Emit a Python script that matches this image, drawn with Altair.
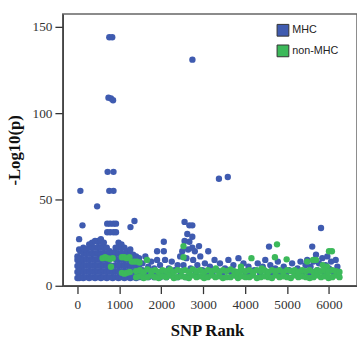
import altair as alt
import pandas as pd

BLUE = "#3f5bb0"
GREEN = "#3cb95a"

# MHC: high peaks
mhc_peaks = [
    (70, 55), (120, 35), (470, 46),
    (760, 144), (830, 144),
    (740, 109), (800, 108.5), (850, 107.5),
    (720, 66), (860, 66),
    (760, 55), (860, 55),
    (710, 36), (780, 36), (860, 36), (920, 36),
    (710, 31), (780, 31), (860, 31), (920, 31),
    (1265, 34), (1360, 37.5),
    (2742, 131), (3375, 62), (3586, 63),
    (2555, 37), (2670, 35), (2740, 35), (5810, 33.5),
]

# MHC: dense cloud, ranks 0-1500
mhc_cloud = [
    (0, 4.5), (0, 8), (0, 11.5), (0, 15), (0, 17),
    (40, 4.5), (40, 8), (40, 11.5), (40, 15), (40, 21), (40, 27),
    (70, 5), (70, 9), (70, 12.5), (70, 16), (70, 20),
    (140, 4.5), (140, 8), (140, 11.5), (140, 15), (140, 18.5), (140, 22),
    (210, 5), (210, 8.5), (210, 12), (210, 15.5), (210, 19), (210, 21),
    (280, 4.5), (280, 8), (280, 11.5), (280, 15), (280, 18.5), (280, 22), (280, 24),
    (350, 5), (350, 8.5), (350, 12), (350, 15.5), (350, 19), (350, 22.5), (350, 25),
    (420, 4.5), (420, 8), (420, 11.5), (420, 15), (420, 18.5), (420, 22), (420, 26),
    (490, 5), (490, 8.5), (490, 12), (490, 15.5), (490, 19), (490, 22.5), (490, 26),
    (560, 4.5), (560, 8), (560, 11.5), (560, 15), (560, 18.5), (560, 22), (560, 25.5), (560, 27),
    (630, 5), (630, 8.5), (630, 12), (630, 15.5), (630, 19), (630, 22.5), (630, 25),
    (700, 4.5), (700, 8), (700, 11.5), (700, 15), (700, 18.5), (700, 22),
    (770, 5), (770, 8.5), (770, 12), (770, 17), (770, 20),
    (840, 4.5), (840, 8), (840, 11.5), (840, 19),
    (910, 5), (910, 8.5), (910, 12), (910, 15.5), (910, 19), (910, 22),
    (980, 4.5), (980, 8), (980, 11.5), (980, 15), (980, 18.5), (980, 22), (980, 25),
    (1050, 5), (1050, 8.5), (1050, 12), (1050, 15.5), (1050, 19), (1050, 22.5), (1050, 24),
    (1120, 4.5), (1120, 8), (1120, 11.5), (1120, 15), (1120, 18.5), (1120, 22),
    (1190, 5), (1190, 8.5), (1190, 12), (1190, 15.5), (1190, 19), (1190, 20),
    (1260, 4.5), (1260, 8), (1260, 11.5), (1260, 15), (1260, 18.5), (1260, 21),
    (1330, 5), (1330, 8.5), (1330, 12), (1330, 15.5), (1330, 18),
    (1400, 4.5), (1400, 8), (1400, 11.5), (1400, 15), (1400, 17),
    (1470, 5), (1470, 8.5), (1470, 12), (1470, 16),
]

# MHC: sparse points, ranks 1500-6250
mhc_sparse = [
    (1550, 5), (1550, 9), (1550, 13), (1620, 7), (1620, 17), (1690, 5), (1690, 11),
    (1760, 8), (1760, 14), (1830, 5), (1830, 10), (1900, 7), (1900, 15), (1900, 20),
    (1970, 5), (1970, 12), (2040, 8), (2060, 20), (2060, 25.5), (2090, 15), (2120, 5),
    (2180, 10), (2250, 6), (2250, 14), (2320, 9), (2390, 5), (2390, 12), (2450, 17),
    (2460, 8), (2500, 20), (2530, 12), (2555, 26), (2590, 5), (2600, 16), (2620, 30),
    (2640, 21), (2670, 25.5), (2700, 10), (2740, 28.4), (2740, 22), (2760, 15),
    (2800, 20), (2820, 7), (2860, 12), (2900, 23), (2930, 17), (2980, 9), (3040, 13),
    (3080, 6), (3120, 20), (3160, 11), (3220, 7), (3270, 15), (3330, 9), (3400, 13),
    (3460, 6), (3520, 10), (3600, 15), (3660, 8), (3720, 12), (3780, 6), (3840, 16),
    (3900, 9), (3960, 13), (4020, 7), (4080, 11), (4140, 6), (4220, 9), (4300, 13),
    (4360, 7), (4420, 11), (4480, 15), (4540, 8), (4570, 22.7), (4600, 12), (4660, 6),
    (4720, 10), (4780, 14), (4850, 7), (4920, 11), (4980, 6), (5050, 9), (5120, 13),
    (5180, 7), (5250, 10), (5320, 14), (5380, 8), (5440, 12), (5480, 15), (5520, 7),
    (5560, 11), (5600, 22.7), (5630, 14), (5690, 18), (5720, 9), (5760, 13),
    (5840, 16), (5880, 8), (5920, 12), (5960, 17), (6000, 10), (6050, 14), (6100, 8),
    (6160, 15), (6200, 11), (6220, 7),
]

# non-MHC: scattered upper points
nonmhc_upper = [
    (600, 16), (660, 16.5), (720, 16), (780, 15.5), (840, 16), (800, 11),
    (1060, 16.5), (1120, 16.5), (1180, 16), (1240, 16.5),
    (1300, 14), (1360, 14), (1420, 14), (1480, 13.5), (1660, 15),
    (1060, 7.5), (1120, 7), (1180, 7.5), (1250, 8),
    (2530, 23), (2530, 16.5), (4150, 16), (4710, 16.5), (4760, 24), (4990, 15.3),
    (5480, 14), (5620, 15), (5690, 15), (5950, 11), (6000, 20), (6070, 20),
    (5850, 12), (3300, 10), (3900, 11), (2200, 9), (4400, 10),
]

# non-MHC: low band (rank, lower value, upper value)
nonmhc_band = [
    (1400, 5, 8.5), (1490, 5.5, 9), (1580, 4.5, 8), (1670, 5, 9.5), (1760, 6, 8.5),
    (1850, 5, 9), (1940, 4.5, 8), (2030, 5.5, 9), (2120, 5, 8.5), (2210, 6, 9.5),
    (2300, 4.5, 8), (2390, 5, 9), (2480, 5.5, 8.5), (2570, 5, 9), (2660, 4.5, 8),
    (2750, 6, 9.5), (2840, 5, 8.5), (2930, 5.5, 9), (3020, 4.5, 8), (3110, 5, 9),
    (3200, 6, 8.5), (3290, 5, 9), (3380, 5.5, 8), (3470, 4.5, 9), (3560, 5, 8.5),
    (3650, 5, 9.5), (3740, 6, 8.5), (3830, 4.5, 8), (3920, 5.5, 9), (4010, 5, 8.5),
    (4100, 5, 9), (4190, 6, 8), (4280, 4.5, 9), (4370, 5, 8.5), (4460, 5.5, 9),
    (4550, 5, 8), (4640, 4.5, 9), (4730, 6, 8.5), (4820, 5, 9), (4910, 5.5, 8),
    (5000, 5, 9), (5090, 4.5, 8.5), (5180, 6, 9), (5270, 5, 8), (5360, 5.5, 9),
    (5450, 5, 8.5), (5540, 4.5, 9), (5630, 5, 8), (5720, 6, 9), (5810, 5, 8.5),
    (5900, 5.5, 9), (5990, 4.5, 8), (6080, 5, 9), (6170, 6, 8.5), (6250, 5, 8),
]

groups = ["MHC", "non-MHC"]
x_ticks = [0, 1000, 2000, 3000, 4000, 5000, 6000]
y_ticks = [0, 50, 100, 150]

rows = []
for r, v in mhc_peaks + mhc_cloud + mhc_sparse:
    rows.append({"rank": r, "logp": v, "group": "MHC"})
for r, v in nonmhc_upper:
    rows.append({"rank": r, "logp": v, "group": "non-MHC"})
for r, lo, hi in nonmhc_band:
    rows.append({"rank": r, "logp": lo, "group": "non-MHC"})
    rows.append({"rank": r, "logp": hi, "group": "non-MHC"})
df = pd.DataFrame(rows)

chart = alt.Chart(df).mark_circle(size=42, opacity=1).encode(
    x=alt.X("rank:Q",
            scale=alt.Scale(domain=[-350, 6668], nice=False, zero=False),
            axis=alt.Axis(values=x_ticks, format="d", title="SNP Rank", labelPadding=4,
                          titleY=51, titleX=147, titleBaseline="alphabetic")),
    y=alt.Y("logp:Q",
            scale=alt.Scale(domain=[0, 157.4], nice=False),
            axis=alt.Axis(values=y_ticks, format="d", title="-Log10(p)", labelPadding=3,
                          titleX=-44, titleBaseline="alphabetic")),
    color=alt.Color("group:N",
                    scale=alt.Scale(domain=groups, range=[BLUE, GREEN]),
                    legend=alt.Legend(title=None, orient="none", legendX=218, legendY=10,
                                      symbolType="square", symbolSize=144,
                                      symbolStrokeColor="#333", symbolStrokeWidth=1,
                                      symbolOpacity=1, labelFont="Liberation Sans",
                                      labelFontSize=11, labelColor="#222",
                                      labelOffset=3, rowPadding=4, padding=0)),
).properties(
    width=300, height=277,
    autosize=alt.AutoSizeParams(type="none"),
    padding={"left": 64, "top": 11, "right": 0, "bottom": 56},
).configure_axis(
    grid=False,
    labelFont="Liberation Serif", labelFontSize=13.5, labelColor="#333",
    tickColor="#333", tickSize=8, tickWidth=1.3,
    domainColor="#444", domainWidth=1.5,
    titleFont="Liberation Serif", titleFontSize=17, titleFontWeight="bold", titleColor="#111",
).configure_view(
    stroke="#666", strokeWidth=1.5,
)

chart.save("out.html", embed_options={"renderer": "svg", "actions": False})
